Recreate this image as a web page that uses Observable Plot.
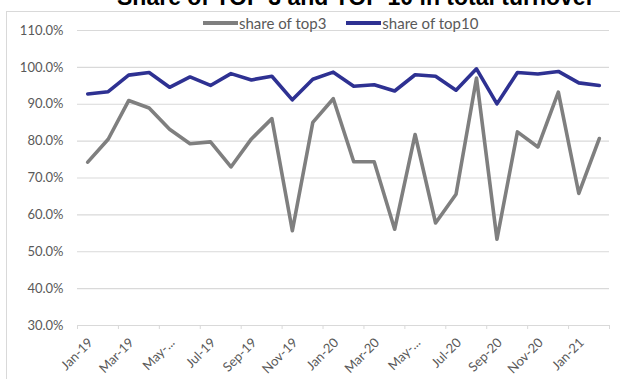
<!DOCTYPE html>
<html><head><meta charset="utf-8">
<script src="https://cdn.jsdelivr.net/npm/d3@7"></script>
<script src="https://cdn.jsdelivr.net/npm/@observablehq/plot@0.6"></script>
<style>
body{margin:0;background:#fff;}
#wrap{position:relative;width:620px;height:379px;overflow:hidden;font-family:Lato,"Liberation Sans",sans-serif;}
#frame{position:absolute;left:6px;top:11px;right:-2px;bottom:-2px;border-top:1px solid #d9d9d9;border-left:1px solid #d9d9d9;}
#chart{position:absolute;left:0;top:0;}
#title{position:absolute;left:117px;top:-14.5px;font:bold 23px "Liberation Sans",Arial,sans-serif;line-height:23px;white-space:nowrap;color:#000;}
#legend{position:absolute;top:14px;left:203px;display:flex;align-items:center;font-size:15px;color:#595959;line-height:18px;}
.sw{display:inline-block;width:35px;height:4px;margin-right:1px;}
</style></head>
<body>
<div id="wrap">
  <div id="frame"></div>
  <div id="chart"></div>
  <div id="title">Share of TOP 3 and TOP 10 in total turnover</div>
  <div id="legend"></div>
</div>
<script>
const months = ["Jan-19","Feb-19","Mar-19","Apr-19","May-19","Jun-19","Jul-19","Aug-19","Sep-19","Oct-19","Nov-19","Dec-19",
  "Jan-20","Feb-20","Mar-20","Apr-20","May-20","Jun-20","Jul-20","Aug-20","Sep-20","Oct-20","Nov-20","Dec-20","Jan-21","Feb-21"];
const top3 = [74.3,80.5,91.0,89.0,83.2,79.3,79.8,73.0,80.6,86.1,55.7,85.1,91.5,74.4,74.4,56.1,81.8,57.8,65.6,97.1,53.4,82.5,78.4,93.3,65.8,80.7];
const top10 = [92.8,93.4,97.9,98.6,94.6,97.4,95.1,98.3,96.6,97.6,91.2,96.8,98.7,94.9,95.3,93.6,98.0,97.6,93.8,99.6,90.1,98.6,98.2,98.9,95.8,95.1];
const xTickLabels = ["Jan-19","Mar-19","May-...","Jul-19","Sep-19","Nov-19","Jan-20","Mar-20","May-...","Jul-20","Sep-20","Nov-20","Jan-21"];
const yTicks = [30,40,50,60,70,80,90,100,110];
const seriesNames = ["share of top3","share of top10"];
const seriesColors = ["#7f7f7f","#2e3192"];

const data3 = months.map((m,i)=>({i, m, v: top3[i]}));
const data10 = months.map((m,i)=>({i, m, v: top10[i]}));
const labelTicks = xTickLabels.map((_,k)=>k*2);
const boundaries = d3.range(0, months.length + 1, 2).map(k => k - 0.5);

const chart = Plot.plot({
  width: 620, height: 379,
  marginTop: 30, marginBottom: 54, marginLeft: 77, marginRight: 11,
  style: {fontFamily: "Lato, 'Liberation Sans', sans-serif", fontSize: "13px", color: "#595959", background: "transparent", overflow: "visible"},
  x: {domain: [-0.5, months.length - 0.5]},
  y: {domain: [30, 110]},
  marks: [
    Plot.gridY(yTicks.slice(1), {stroke: "#d9d9d9", strokeOpacity: 1, strokeWidth: 1.2}),
    Plot.ruleY([30], {stroke: "#d9d9d9", strokeWidth: 1.2}),
    Plot.axisY(yTicks, {tickSize: 0, tickPadding: 14, tickFormat: d => d.toFixed(1) + "%", label: null}),
    Plot.axisX(boundaries, {tickSize: 4, stroke: "#d9d9d9", tickFormat: () => "", label: null}),
    Plot.axisX(labelTicks, {tickSize: 0, tickPadding: 15, tickRotate: -45, dx: 3, tickFormat: i => xTickLabels[i / 2], label: null}),
    Plot.lineY(data3, {x: "i", y: "v", stroke: seriesColors[0], strokeWidth: 3.6}),
    Plot.lineY(data10, {x: "i", y: "v", stroke: seriesColors[1], strokeWidth: 3.6})
  ]
});
document.getElementById("chart").appendChild(chart);

const legend = document.getElementById("legend");
seriesNames.forEach((name, k) => {
  const sw = document.createElement("span");
  sw.className = "sw";
  sw.style.background = seriesColors[k];
  const t = document.createElement("span");
  t.textContent = name;
  if (k === 0) t.style.marginRight = "20px";
  legend.appendChild(sw);
  legend.appendChild(t);
});
</script>
</body></html>
